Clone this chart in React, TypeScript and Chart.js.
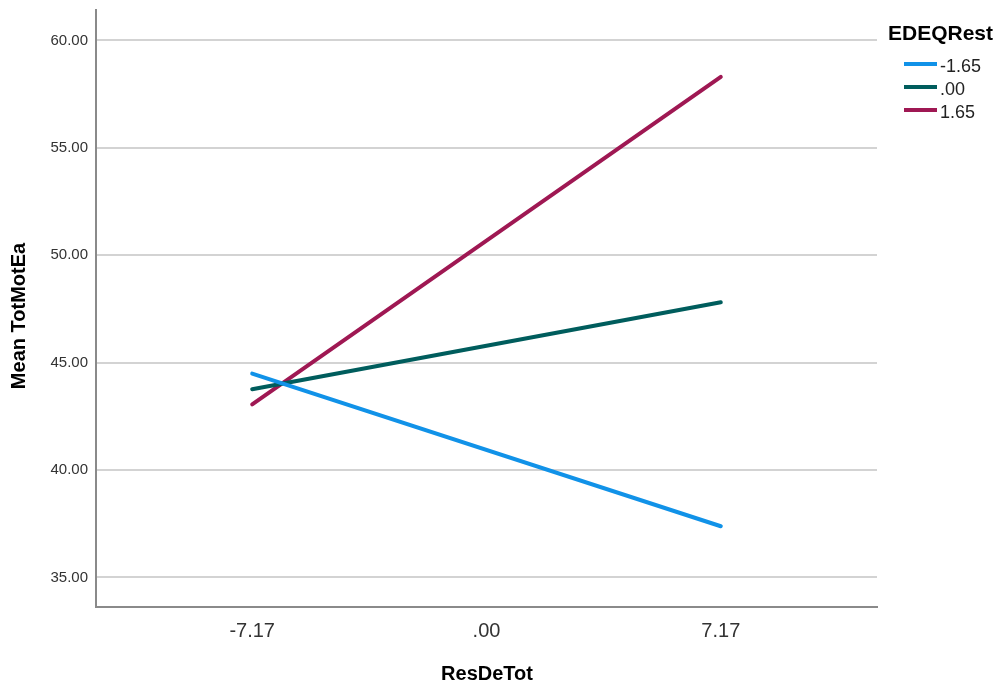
import React, { useEffect, useRef } from "react";
import { Chart, registerables } from "chart.js";

Chart.register(...registerables);

const xTickValues = [-7.17, 0, 7.17];
const xTickLabels = ["-7.17", ".00", "7.17"];
const yTickValues = [35, 40, 45, 50, 55, 60];

const seriesNames = ["-1.65", ".00", "1.65"];
const seriesColors = ["#1192e8", "#005d5d", "#9f1853"];
const xPoints = [-7.17, 7.17];
const lowValues = [44.49, 37.38];
const midValues = [43.76, 47.81];
const highValues = [43.06, 58.31];

const legendTitle = "EDEQRest";
const xTitle = "ResDeTot";
const yTitle = "Mean TotMotEa";

const FONT = "'Liberation Sans', Arial, sans-serif";

export default function App() {
  const ref = useRef<HTMLCanvasElement | null>(null);

  useEffect(() => {
    document.body.style.margin = "0";
    const canvas = ref.current;
    if (!canvas) return;
    const seriesValues = [lowValues, midValues, highValues];

    const overlay = {
      id: "overlay",
      afterDraw(chart: any) {
        const ctx = chart.ctx;
        ctx.save();
        ctx.fillStyle = "#000";
        ctx.font = `bold 20px ${FONT}`;
        ctx.textAlign = "center";
        ctx.textBaseline = "middle";
        ctx.translate(19, 316);
        ctx.rotate(-Math.PI / 2);
        ctx.fillText(yTitle, 0, 0);
        ctx.restore();

        ctx.save();
        ctx.fillStyle = "#000";
        ctx.font = `bold 20px ${FONT}`;
        ctx.textAlign = "center";
        ctx.textBaseline = "middle";
        ctx.fillText(xTitle, 487, 674);

        ctx.textAlign = "left";
        ctx.font = `bold 21px ${FONT}`;
        ctx.fillText(legendTitle, 888, 34);
        ctx.font = `18px ${FONT}`;
        seriesNames.forEach((name, i) => {
          const y = 64 + i * 23;
          ctx.strokeStyle = seriesColors[i];
          ctx.lineWidth = 4;
          ctx.beginPath();
          ctx.moveTo(904, y);
          ctx.lineTo(937, y);
          ctx.stroke();
          ctx.fillStyle = "#222";
          ctx.fillText(name, 940, y + 3);
        });
        ctx.restore();
      },
    };

    const chart = new Chart(canvas, {
      type: "line",
      data: {
        datasets: seriesNames.map((name, i) => ({
          label: name,
          data: xPoints.map((x, j) => ({ x, y: seriesValues[i][j] })),
          borderColor: seriesColors[i],
          backgroundColor: seriesColors[i],
          borderWidth: 4,
          borderCapStyle: "round" as const,
          pointRadius: 0,
          fill: false,
          tension: 0,
        })),
      },
      options: {
        animation: false,
        responsive: false,
        maintainAspectRatio: false,
        layout: { padding: { top: 10, right: 130, left: 0, bottom: 0 } },
        plugins: {
          legend: { display: false },
          tooltip: { enabled: false },
        },
        scales: {
          x: {
            type: "linear",
            min: -11.95,
            max: 11.95,
            afterBuildTicks: (scale: any) => {
              scale.ticks = xTickValues.map((v) => ({ value: v }));
            },
            afterFit: (scale: any) => {
              scale.height = 81;
              scale.paddingLeft = 0;
              scale.paddingRight = 0;
            },
            grid: { display: true, color: "rgba(0,0,0,0)", drawTicks: false },
            border: { display: true, color: "#8a8a8a", width: 2 },
            ticks: {
              padding: 12,
              color: "#333",
              font: { family: FONT, size: 20 },
              callback: (v: any) => {
                const i = xTickValues.indexOf(Number(v));
                return i >= 0 ? xTickLabels[i] : "";
              },
            },
          },
          y: {
            type: "linear",
            min: 33.62,
            max: 61.42,
            afterBuildTicks: (scale: any) => {
              scale.ticks = yTickValues.map((v) => ({ value: v }));
            },
            afterFit: (scale: any) => {
              scale.width = 96;
              scale.paddingTop = 0;
              scale.paddingBottom = 0;
            },
            grid: { color: "#d3d3d3", lineWidth: 2, drawTicks: false },
            border: { display: true, color: "#8a8a8a", width: 2 },
            ticks: {
              padding: 8,
              color: "#333",
              font: { family: FONT, size: 15 },
              callback: (v: any) => Number(v).toFixed(2),
            },
          },
        },
      },
      plugins: [overlay],
    });
    return () => chart.destroy();
  }, []);

  return (
    <div style={{ width: 1007, height: 688, background: "#fff" }}>
      <canvas ref={ref} width={1007} height={688} style={{ display: "block" }} />
    </div>
  );
}
